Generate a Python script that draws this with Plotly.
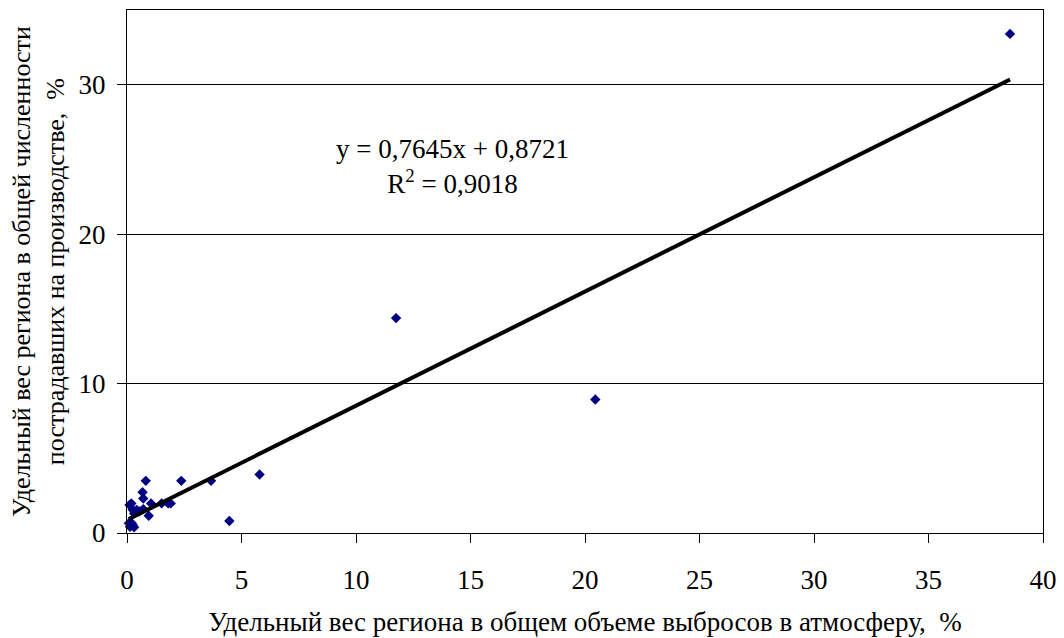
import plotly.graph_objects as go

# Data
x_emissions = [38.56, 20.45, 11.75, 5.79, 4.47, 3.67, 2.37, 0.82, 0.68, 0.71,
               1.91, 1.80, 1.51, 1.05, 0.19, 0.95, 0.71, 0.42, 0.25, 0.31,
               0.13, 0.31, 0.21, 0.55, 0.11, 0.08, 0.25]
y_injured = [33.40, 8.93, 14.38, 3.91, 0.80, 3.49, 3.49, 3.49, 2.73, 2.31,
             1.98, 1.98, 1.98, 1.98, 1.98, 1.15, 1.60, 1.55, 1.55, 1.31,
             0.42, 0.38, 0.65, 1.45, 1.88, 0.65, 0.53]

slope = 0.7645
intercept = 0.8721
r2 = 0.9018

x_ticks = [0, 5, 10, 15, 20, 25, 30, 35, 40]
y_ticks = [0, 10, 20, 30]

x_title = "Удельный вес региона в общем объеме выбросов в атмосферу,  %"
y_title = "Удельный вес региона в общей численности<br>пострадавших на производстве,  %"

FONT = "Liberation Serif, Times New Roman, serif"
FS = 27


def comma(v):
    return str(v).replace(".", ",")


x_min, x_max = min(x_emissions), max(x_emissions)
trend_x = [x_min, x_max]
trend_y = [slope * v + intercept for v in trend_x]

fig = go.Figure()
fig.add_trace(go.Scatter(
    x=x_emissions, y=y_injured, mode="markers",
    marker=dict(symbol="diamond", size=8, color="#000080"),
    showlegend=False, cliponaxis=False,
))
fig.add_trace(go.Scatter(
    x=trend_x, y=trend_y, mode="lines",
    line=dict(color="black", width=4),
    showlegend=False,
))

fig.add_annotation(
    x=14.2, y=24.5, xref="x", yref="y",
    text=f"y = {comma(slope)}x + {comma(intercept)}<br>R<sup>2</sup> = {comma(r2)}",
    showarrow=False, font=dict(family=FONT, size=FS, color="black"),
    align="center",
)

fig.add_annotation(
    x=-0.0966, y=0.5, xref="paper", yref="paper",
    text=y_title, textangle=-90, showarrow=False,
    font=dict(family=FONT, size=26, color="black"),
    xanchor="center", yanchor="middle", align="center",
)

fig.update_layout(
    width=1056, height=630,
    margin=dict(l=119, r=21, t=2, b=105),
    paper_bgcolor="white", plot_bgcolor="white",
    font=dict(family=FONT, size=FS, color="black"),
    xaxis=dict(
        range=[0, 40], tickvals=x_ticks, ticks="outside", ticklen=9,
        tickcolor="black", showline=True, linecolor="black", linewidth=1,
        mirror=True, showgrid=False, zeroline=False, ticklabelstandoff=14,
        title=dict(text=x_title, font=dict(family=FONT, size=FS), standoff=17),
        tickfont=dict(family=FONT, size=FS),
    ),
    yaxis=dict(
        range=[0, 35], tickvals=y_ticks, ticks="outside", ticklen=9,
        tickcolor="black", showline=True, linecolor="black", linewidth=1,
        mirror=True, showgrid=True, gridcolor="black", gridwidth=1,
        zeroline=False, ticklabelstandoff=6, tickfont=dict(family=FONT, size=FS),
    ),
)

fig.write_html("out.html")
